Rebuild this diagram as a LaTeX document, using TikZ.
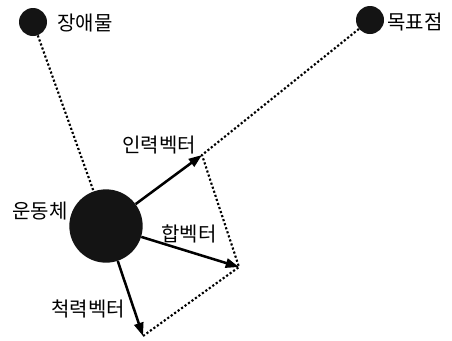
\documentclass[tikz,border=0pt]{standalone}
\usepackage{fontspec}
\setmainfont{Noto Sans CJK KR}
\usetikzlibrary{arrows.meta}
\begin{document}
\begin{tikzpicture}[x=0.75pt,y=-0.75pt,
  ball/.style={circle,fill=black!92,inner sep=0pt},
  lbl/.style={font=\fontsize{15}{17}\selectfont,inner sep=0pt},
  vec/.style={line width=1.9pt,-{Triangle[length=10pt,width=7pt]}},
  dots/.style={line width=1.6pt,dash pattern=on 1.6pt off 1.6pt}]
\useasboundingbox (0,0) rectangle (452,340);
\node[ball,minimum size=21pt] (obs) at (33,22) {};
\node[ball,minimum size=21pt] (goal) at (370,20) {};
\node[ball,minimum size=55pt] (body) at (106,226) {};
\coordinate (att) at (202,155);
\coordinate (res) at (239,267);
\coordinate (rep) at (143,336);
\draw[dots] (obs) -- (body);
\draw[dots] (goal) -- (att) -- (res) -- (rep);
\draw[vec] (body) -- (att);
\draw[vec] (body) -- (res);
\draw[vec] (body) -- (rep);
\node[lbl] (l1) at (85,23) {장애물};
\node[lbl] (l2) at (415,22) {목표점};
\node[lbl] (l3) at (159,145) {인력벡터};
\node[lbl] (l4) at (189,234) {합벡터};
\node[lbl] (l5) at (88,309) {척력벡터};
\node[lbl] (l6) at (40,211) {운동체};
\end{tikzpicture}
\end{document}
